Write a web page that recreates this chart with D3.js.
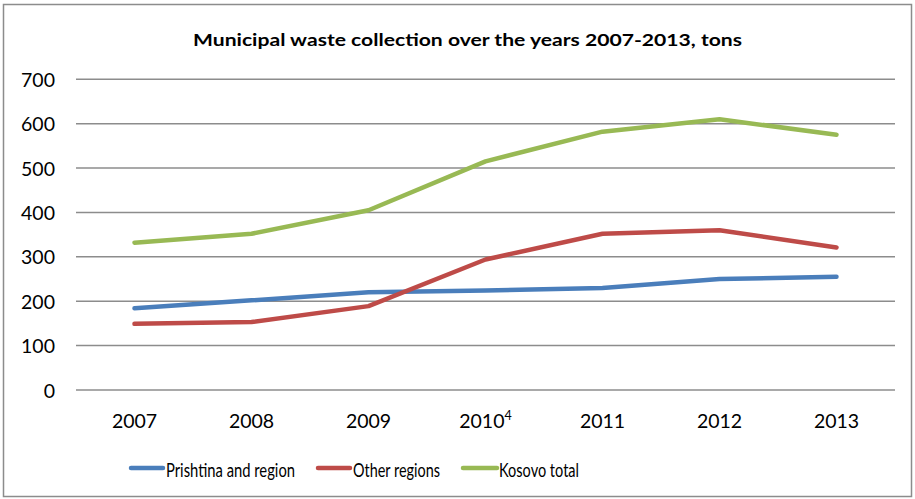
<!DOCTYPE html>
<html><head><meta charset="utf-8">
<script src="https://cdn.jsdelivr.net/npm/d3@7"></script>
<style>body{margin:0;background:#fff}svg{display:block}text{font-family:Lato,"Open Sans",sans-serif;fill:#000}</style>
</head><body>
<svg id="c" width="915" height="499"></svg>
<script>
const years = ["2007","2008","2009","2010","2011","2012","2013"];
const yearSup = ["","","","4","","",""];
const prishtina = [184,202,220,224,230,250,255];
const otherRegions = [149,153,189,294,352,360,321];
const kosovoTotal = [332,352,405,515,582,610,575];
const yTicks = [0,100,200,300,400,500,600,700];
const seriesNames = ["Prishtina and region","Other regions","Kosovo total"];
const seriesColors = ["#4a7ebb","#be4b48","#98b954"];
const seriesData = [prishtina, otherRegions, kosovoTotal];

const svg = d3.select("#c");
svg.append("rect").attr("x",3.5).attr("y",4.5).attr("width",908).attr("height",492)
  .attr("fill","#fff").attr("stroke","#8c8c8c").attr("stroke-width",1.5);

const L=76,R=895,T=79.3,B=390;
const x = d3.scaleBand().domain(years).range([L,R]);
const y = d3.scaleLinear().domain([0,700]).range([B,T]);

svg.append("text").attr("x",193).attr("y",46)
  .attr("font-size",17.5).attr("font-weight","bold")
  .attr("textLength",549).attr("lengthAdjust","spacingAndGlyphs")
  .text("Municipal  waste collection  over the years 2007-2013, tons");

const g = svg.append("g");
g.selectAll("line.grid").data(yTicks).join("line").attr("class","grid")
  .attr("x1",L).attr("x2",R).attr("y1",d=>y(d)).attr("y2",d=>y(d))
  .attr("stroke","#8c8c8c").attr("stroke-width",1.5);

g.selectAll("text.yl").data(yTicks).join("text").attr("class","yl")
  .attr("x",55).attr("y",d=>y(d)+7.5).attr("text-anchor","end").attr("font-size",19.5).text(d=>d);

const xl = g.selectAll("text.xl").data(years).join("text").attr("class","xl")
  .attr("x",d=>x(d)+x.bandwidth()/2).attr("y",428).attr("text-anchor","middle").attr("font-size",19.5);
xl.text(d=>d);
xl.filter((d,i)=>yearSup[i]).append("tspan").attr("dy",-8).attr("font-size",12.5).text((d,i)=>yearSup[years.indexOf(d)]);

const line = d3.line().x((d,i)=>x(years[i])+x.bandwidth()/2).y(d=>y(d));
seriesData.forEach((s,k)=>{
  g.append("path").attr("d",line(s)).attr("fill","none").attr("stroke",seriesColors[k])
   .attr("stroke-width",4.5).attr("stroke-linecap","round").attr("stroke-linejoin","round");
});

const legLine = [[131,163],[318,350],[463,497]];
const legText = [[166,129],[353,87],[499,80]];
seriesNames.forEach((n,k)=>{
  svg.append("line").attr("x1",legLine[k][0]).attr("x2",legLine[k][1]).attr("y1",468).attr("y2",468)
    .attr("stroke",seriesColors[k]).attr("stroke-width",4.5).attr("stroke-linecap","round");
  svg.append("text").attr("x",legText[k][0]).attr("y",477).attr("font-size",19.5)
    .attr("textLength",legText[k][1]).attr("lengthAdjust","spacingAndGlyphs").text(n);
});
</script>
</body></html>
